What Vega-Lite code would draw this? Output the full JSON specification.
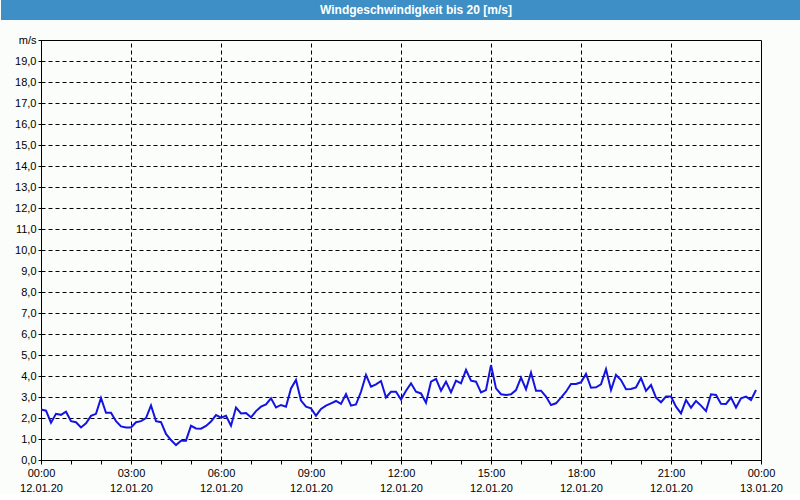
{
  "$schema": "https://vega.github.io/schema/vega-lite/v6.json",
  "padding": 0,
  "background": "#fbfdfb",
  "spacing": 20,
  "columns": 1,
  "bounds": "flush",
  "center": true,
  "config": {
    "font": "Liberation Sans",
    "view": {"stroke": "#000000", "strokeWidth": 1},
    "axis": {"labelFont": "Liberation Sans", "labelFontSize": 11, "labelColor": "#000000", "tickColor": "#000000", "domainColor": "#000000", "gridColor": "#000000", "gridDash": [4, 3], "gridWidth": 1, "gridOpacity": 1}
  },
  "concat": [
    {
      "width": 800,
      "height": 20,
      "view": {"fill": "#3d8fc6", "stroke": null},
      "data": {"values": [{"title": "Windgeschwindigkeit bis 20 [m/s]"}]},
      "mark": {"type": "text", "color": "#ffffff", "fontWeight": "bold", "fontSize": 12, "font": "Liberation Sans", "dx": 15, "baseline": "middle"},
      "encoding": {"text": {"field": "title"}}
    },
    {
      "width": 720,
      "height": 420,
      "data": {"values": [
        {"t":"2020-01-12T00:00","v":2.4},{"t":"2020-01-12T00:10","v":2.35},{"t":"2020-01-12T00:20","v":1.78},{"t":"2020-01-12T00:30","v":2.2},{"t":"2020-01-12T00:40","v":2.15},{"t":"2020-01-12T00:50","v":2.3},
        {"t":"2020-01-12T01:00","v":1.85},{"t":"2020-01-12T01:10","v":1.8},{"t":"2020-01-12T01:20","v":1.55},{"t":"2020-01-12T01:30","v":1.75},{"t":"2020-01-12T01:40","v":2.1},{"t":"2020-01-12T01:50","v":2.2},
        {"t":"2020-01-12T02:00","v":2.95},{"t":"2020-01-12T02:10","v":2.25},{"t":"2020-01-12T02:20","v":2.25},{"t":"2020-01-12T02:30","v":1.85},{"t":"2020-01-12T02:40","v":1.6},{"t":"2020-01-12T02:50","v":1.55},
        {"t":"2020-01-12T03:00","v":1.55},{"t":"2020-01-12T03:10","v":1.8},{"t":"2020-01-12T03:20","v":1.85},{"t":"2020-01-12T03:30","v":2.0},{"t":"2020-01-12T03:40","v":2.6},{"t":"2020-01-12T03:50","v":1.85},
        {"t":"2020-01-12T04:00","v":1.8},{"t":"2020-01-12T04:10","v":1.24},{"t":"2020-01-12T04:20","v":0.95},{"t":"2020-01-12T04:30","v":0.71},{"t":"2020-01-12T04:40","v":0.92},{"t":"2020-01-12T04:50","v":0.92},
        {"t":"2020-01-12T05:00","v":1.63},{"t":"2020-01-12T05:10","v":1.5},{"t":"2020-01-12T05:20","v":1.49},{"t":"2020-01-12T05:30","v":1.62},{"t":"2020-01-12T05:40","v":1.83},{"t":"2020-01-12T05:50","v":2.14},
        {"t":"2020-01-12T06:00","v":2.02},{"t":"2020-01-12T06:10","v":2.11},{"t":"2020-01-12T06:20","v":1.63},{"t":"2020-01-12T06:30","v":2.5},{"t":"2020-01-12T06:40","v":2.22},{"t":"2020-01-12T06:50","v":2.24},
        {"t":"2020-01-12T07:00","v":2.03},{"t":"2020-01-12T07:10","v":2.33},{"t":"2020-01-12T07:20","v":2.54},{"t":"2020-01-12T07:30","v":2.65},{"t":"2020-01-12T07:40","v":2.94},{"t":"2020-01-12T07:50","v":2.5},
        {"t":"2020-01-12T08:00","v":2.62},{"t":"2020-01-12T08:10","v":2.54},{"t":"2020-01-12T08:20","v":3.41},{"t":"2020-01-12T08:30","v":3.81},{"t":"2020-01-12T08:40","v":2.83},{"t":"2020-01-12T08:50","v":2.54},
        {"t":"2020-01-12T09:00","v":2.46},{"t":"2020-01-12T09:10","v":2.11},{"t":"2020-01-12T09:20","v":2.43},{"t":"2020-01-12T09:30","v":2.59},{"t":"2020-01-12T09:40","v":2.7},{"t":"2020-01-12T09:50","v":2.81},
        {"t":"2020-01-12T10:00","v":2.67},{"t":"2020-01-12T10:10","v":3.14},{"t":"2020-01-12T10:20","v":2.59},{"t":"2020-01-12T10:30","v":2.65},{"t":"2020-01-12T10:40","v":3.25},{"t":"2020-01-12T10:50","v":4.05},
        {"t":"2020-01-12T11:00","v":3.49},{"t":"2020-01-12T11:10","v":3.6},{"t":"2020-01-12T11:20","v":3.76},{"t":"2020-01-12T11:30","v":2.98},{"t":"2020-01-12T11:40","v":3.25},{"t":"2020-01-12T11:50","v":3.25},
        {"t":"2020-01-12T12:00","v":2.88},{"t":"2020-01-12T12:10","v":3.3},{"t":"2020-01-12T12:20","v":3.65},{"t":"2020-01-12T12:30","v":3.25},{"t":"2020-01-12T12:40","v":3.17},{"t":"2020-01-12T12:50","v":2.73},
        {"t":"2020-01-12T13:00","v":3.73},{"t":"2020-01-12T13:10","v":3.86},{"t":"2020-01-12T13:20","v":3.3},{"t":"2020-01-12T13:30","v":3.73},{"t":"2020-01-12T13:40","v":3.22},{"t":"2020-01-12T13:50","v":3.78},
        {"t":"2020-01-12T14:00","v":3.65},{"t":"2020-01-12T14:10","v":4.29},{"t":"2020-01-12T14:20","v":3.78},{"t":"2020-01-12T14:30","v":3.73},{"t":"2020-01-12T14:40","v":3.22},{"t":"2020-01-12T14:50","v":3.33},
        {"t":"2020-01-12T15:00","v":4.52},{"t":"2020-01-12T15:10","v":3.41},{"t":"2020-01-12T15:20","v":3.13},{"t":"2020-01-12T15:30","v":3.1},{"t":"2020-01-12T15:40","v":3.13},{"t":"2020-01-12T15:50","v":3.33},
        {"t":"2020-01-12T16:00","v":3.92},{"t":"2020-01-12T16:10","v":3.37},{"t":"2020-01-12T16:20","v":4.16},{"t":"2020-01-12T16:30","v":3.3},{"t":"2020-01-12T16:40","v":3.3},{"t":"2020-01-12T16:50","v":3.02},
        {"t":"2020-01-12T17:00","v":2.62},{"t":"2020-01-12T17:10","v":2.7},{"t":"2020-01-12T17:20","v":2.97},{"t":"2020-01-12T17:30","v":3.25},{"t":"2020-01-12T17:40","v":3.62},{"t":"2020-01-12T17:50","v":3.62},
        {"t":"2020-01-12T18:00","v":3.7},{"t":"2020-01-12T18:10","v":4.1},{"t":"2020-01-12T18:20","v":3.44},{"t":"2020-01-12T18:30","v":3.46},{"t":"2020-01-12T18:40","v":3.6},{"t":"2020-01-12T18:50","v":4.33},
        {"t":"2020-01-12T19:00","v":3.33},{"t":"2020-01-12T19:10","v":4.05},{"t":"2020-01-12T19:20","v":3.81},{"t":"2020-01-12T19:30","v":3.37},{"t":"2020-01-12T19:40","v":3.38},{"t":"2020-01-12T19:50","v":3.46},
        {"t":"2020-01-12T20:00","v":3.9},{"t":"2020-01-12T20:10","v":3.29},{"t":"2020-01-12T20:20","v":3.57},{"t":"2020-01-12T20:30","v":2.97},{"t":"2020-01-12T20:40","v":2.75},{"t":"2020-01-12T20:50","v":3.02},
        {"t":"2020-01-12T21:00","v":3.02},{"t":"2020-01-12T21:10","v":2.54},{"t":"2020-01-12T21:20","v":2.22},{"t":"2020-01-12T21:30","v":2.86},{"t":"2020-01-12T21:40","v":2.49},{"t":"2020-01-12T21:50","v":2.81},
        {"t":"2020-01-12T22:00","v":2.59},{"t":"2020-01-12T22:10","v":2.33},{"t":"2020-01-12T22:20","v":3.13},{"t":"2020-01-12T22:30","v":3.1},{"t":"2020-01-12T22:40","v":2.68},{"t":"2020-01-12T22:50","v":2.67},
        {"t":"2020-01-12T23:00","v":2.97},{"t":"2020-01-12T23:10","v":2.5},{"t":"2020-01-12T23:20","v":2.94},{"t":"2020-01-12T23:30","v":3.02},{"t":"2020-01-12T23:40","v":2.86},{"t":"2020-01-12T23:50","v":3.33}
      ]},
      "resolve": {"axis": {"x": "independent"}},
      "layer": [
        {
          "mark": {"type": "line", "opacity": 0},
          "encoding": {
            "x": {
              "field": "t", "type": "temporal",
              "scale": {"domain": ["2020-01-12T00:00", "2020-01-13T00:00"], "nice": false},
              "axis": {"orient": "top", "title": null, "tickCount": 8, "grid": true, "ticks": false, "labels": false, "domain": false}
            },
            "y": {
              "field": "v", "type": "quantitative",
              "scale": {"domain": [0, 20], "nice": false},
              "axis": {
                "title": null,
                "values": [0,1,2,3,4,5,6,7,8,9,10,11,12,13,14,15,16,17,18,19,20],
                "tickSize": 3,
                "labelPadding": 2,
                "minExtent": 40,
                "maxExtent": 40,
                "labelOverlap": false,
                "labelFlush": false,
                "grid": true,
                "labelExpr": "datum.value == 20 ? 'm/s' : replace(format(datum.value, '.1f'), '.', ',')"
              }
            }
          }
        },
        {
          "mark": {"type": "line", "color": "#1414e0", "strokeWidth": 2, "clip": true},
          "encoding": {
            "x": {
              "field": "t", "type": "temporal",
              "scale": {"domain": ["2020-01-12T00:00", "2020-01-13T00:00"], "nice": false},
              "axis": {
                "orient": "bottom",
                "title": null,
                "tickCount": 24,
                "tickSize": 4,
                "labelPadding": 3,
                "labelLineHeight": 15,
                "labelOverlap": false,
                "labelFlush": false,
                "labelAngle": 0,
                "grid": false,
                "labelExpr": "hours(datum.value) % 3 == 0 ? [timeFormat(datum.value, '%H:%M'), timeFormat(datum.value, '%d.%m.%y')] : ''"
              }
            },
            "y": {
              "field": "v", "type": "quantitative",
              "scale": {"domain": [0, 20], "nice": false},
              "axis": {
                "title": null,
                "values": [0,1,2,3,4,5,6,7,8,9,10,11,12,13,14,15,16,17,18,19,20],
                "tickSize": 3,
                "labelPadding": 2,
                "minExtent": 40,
                "maxExtent": 40,
                "labelOverlap": false,
                "labelFlush": false,
                "grid": true,
                "labelExpr": "datum.value == 20 ? 'm/s' : replace(format(datum.value, '.1f'), '.', ',')"
              }
            }
          }
        }
      ]
    }
  ]
}
